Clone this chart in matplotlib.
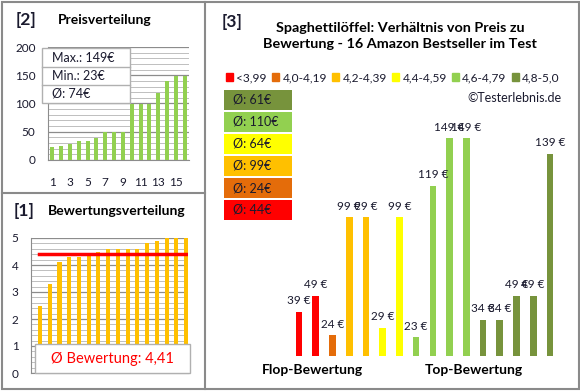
import numpy as np
import matplotlib
matplotlib.use("Agg")
import matplotlib.pyplot as plt
from matplotlib.patches import Rectangle, Patch
from matplotlib.lines import Line2D

plt.rcParams['font.family'] = ['Lato', 'DejaVu Sans']

# values
prices_sorted = [23, 24, 29, 34, 34, 39, 49, 49, 49, 99, 99, 99, 119, 139, 149, 149]
ratings_sorted = [2.5, 3.3, 4.1, 4.3, 4.3, 4.4, 4.5, 4.6, 4.6, 4.6, 4.6, 4.8, 4.9, 5.0, 5.0, 5.0]
prices_by_rating = [39, 49, 24, 99, 99, 29, 99, 23, 119, 149, 149, 34, 34, 49, 49, 139]
rating_class = [0, 0, 1, 2, 2, 3, 3, 4, 4, 4, 4, 5, 5, 5, 5, 5]
class_labels = ['<3,99', '4,0-4,19', '4,2-4,39', '4,4-4,59', '4,6-4,79', '4,8-5,0']
class_colors = ['#FF0000', '#E46C0A', '#FFC000', '#FFFF00', '#92D050', '#77933C']
class_avgs = [44, 24, 99, 64, 110, 61]
price_max, price_min, price_avg = 149, 23, 74
rating_avg = 4.41

W, H = 580, 391
fig = plt.figure(figsize=(W / 100, H / 100), dpi=100)

TXT = '#1a1a2e'
FRAME = '#8a8a8a'


def box(l, t, r, b):
    # pixel box -> figure fraction rect
    return [l / W, 1 - b / H, (r - l) / W, (b - t) / H]


def fx(x):
    return x / W


def fy(y):
    return 1 - y / H


def frect(l, t, r, b, **kw):
    p = Rectangle((fx(l), fy(b)), (r - l) / W, (b - t) / H, transform=fig.transFigure, **kw)
    fig.add_artist(p)
    return p


def fline(x0, y0, x1, y1, **kw):
    fig.add_artist(Line2D([fx(x0), fx(x1)], [fy(y0), fy(y1)], transform=fig.transFigure, **kw))


# panel frames
frect(1.5, 1.5, 578.5, 388.5, fill=False, edgecolor=FRAME, lw=1.5)
fline(205, 1.5, 205, 388.5, color=FRAME, lw=1.5)
fline(1.5, 193, 205, 193, color=FRAME, lw=1.5)

# ---- [2] Preisverteilung ----
fig.text(fx(16), fy(20), '[2]', fontsize=12.5, fontweight='bold', va='center', color=TXT)
fig.text(fx(58), fy(20), 'Preisverteilung', fontsize=10, fontweight='bold', va='center', color='black')

ax1 = fig.add_axes(box(48, 47, 189, 160))
x = np.arange(1, 17)
ax1.bar(x, prices_sorted, width=0.45, color='#92D050', zorder=3)
ax1.set_xlim(0.5, 16.5)
ax1.set_ylim(0, 200)
ax1.set_yticks(range(0, 201, 50))
ax1.set_yticks(range(0, 201, 10), minor=True)
ax1.set_xticks(range(1, 16, 2))
ax1.grid(axis='y', which='major', color='#8c8c8c', lw=0.9, zorder=0)
ax1.grid(axis='y', which='minor', color='#b4b4b4', lw=0.6, zorder=0)
ax1.tick_params(axis='both', which='both', length=0, labelsize=8.5, labelcolor=TXT)
ax1.tick_params(axis='x', pad=12)
ax1.tick_params(axis='y', pad=9)
for s in ['top', 'right']:
    ax1.spines[s].set_visible(False)
ax1.spines['left'].set_color('#8c8c8c')
ax1.spines['bottom'].set_color('#8c8c8c')

frect(42, 48, 130, 103, facecolor='white', edgecolor='#b0b0b0', lw=1, zorder=4)
fline(42, 67, 130, 67, color='#b0b0b0', lw=1, zorder=5)
fline(42, 85, 130, 85, color='#b0b0b0', lw=1, zorder=5)
for yy, s in zip([58, 76, 94], [f'Max.: {price_max}€', f'Min.: {price_min}€', f'Ø: {price_avg}€']):
    fig.text(fx(52), fy(yy), s, fontsize=9, va='center', color=TXT, zorder=6)

# ---- [1] Bewertungsverteilung ----
fig.text(fx(14), fy(211), '[1]', fontsize=12.5, fontweight='bold', va='center', color=TXT)
fig.text(fx(48), fy(211), 'Bewertungsverteilung', fontsize=10, fontweight='bold', va='center', color='black')

ax2 = fig.add_axes(box(31, 238, 188, 373))
ax2.bar(x, ratings_sorted, width=0.42, color='#FFC000', zorder=3)
ax2.set_xlim(0.075, 16.2)
ax2.set_ylim(0, 5)
ax2.set_yticks(range(0, 6))
ax2.set_yticks(np.arange(0, 5.01, 0.2), minor=True)
ax2.set_xticks([])
ax2.grid(axis='y', which='major', color='#8c8c8c', lw=0.9, zorder=0)
ax2.grid(axis='y', which='minor', color='#b4b4b4', lw=0.6, zorder=0)
ax2.tick_params(axis='both', which='both', length=0, labelsize=8.5, labelcolor=TXT)
ax2.tick_params(axis='y', pad=9)
ax2.axhline(rating_avg, xmin=0.05, xmax=1, color='#FF0000', lw=2.5, zorder=4)
for s in ['top', 'right']:
    ax2.spines[s].set_visible(False)
ax2.spines['left'].set_color('#8c8c8c')
ax2.spines['bottom'].set_color('#8c8c8c')

frect(35, 344, 190, 373, facecolor='white', edgecolor='#b0b0b0', lw=1, zorder=4)
fig.text(fx(112), fy(359), f'Ø Bewertung: {rating_avg:.2f}'.replace('.', ','), fontsize=10.5,
         color='#FF0000', ha='center', va='center', zorder=6)

# ---- [3] Preis zu Bewertung ----
fig.text(fx(222), fy(22), '[3]', fontsize=12.5, fontweight='bold', va='center', color=TXT)
fig.text(fx(400), fy(36), 'Spaghettilöffel: Verhältnis von Preis zu\nBewertung - 16 Amazon Bestseller im Test',
         fontsize=10.4, fontweight='bold', ha='center', va='center', color='black', linespacing=1.45)

ax3 = fig.add_axes(box(290, 105, 557, 356))
colors = [class_colors[c] for c in rating_class]
ax3.bar(x, prices_by_rating, width=0.4, color=colors)
ax3.set_xlim(0.46, 16.42)
ax3.set_ylim(11, 170)
ax3.axis('off')
for xi, v in zip(x, prices_by_rating):
    ax3.annotate(f'{v} €', (xi, v), xytext=(0, 4), textcoords='offset points',
                 ha='center', va='bottom', fontsize=8.5, color=TXT)

handles = [Patch(color=c, label=l) for c, l in zip(class_colors, class_labels)]
fig.legend(handles=handles, loc='center', bbox_to_anchor=(fx(393), fy(78)), ncol=6, frameon=False,
           fontsize=8.6, handlelength=0.6, handleheight=0.6, handletextpad=0.25, columnspacing=0.45,
           borderpad=0, borderaxespad=0, labelcolor=TXT)

fig.text(fx(562), fy(98), '©Testerlebnis.de', fontsize=9, ha='right', va='center', color=TXT)

for i, ci in enumerate(range(len(class_avgs) - 1, -1, -1)):
    top = 90 + i * 22
    frect(224, top, 292, top + 20, facecolor=class_colors[ci], edgecolor='none', zorder=2)
    fig.text(fx(233), fy(top + 10), f'Ø: {class_avgs[ci]}€', fontsize=9, va='center', color=TXT, zorder=3)

fig.text(fx(312), fy(370), 'Flop-Bewertung', fontsize=10, fontweight='bold', ha='center', va='center', color='black')
fig.text(fx(474), fy(370), 'Top-Bewertung', fontsize=10, fontweight='bold', ha='center', va='center', color='black')

fig.savefig('out.png', dpi=100)
